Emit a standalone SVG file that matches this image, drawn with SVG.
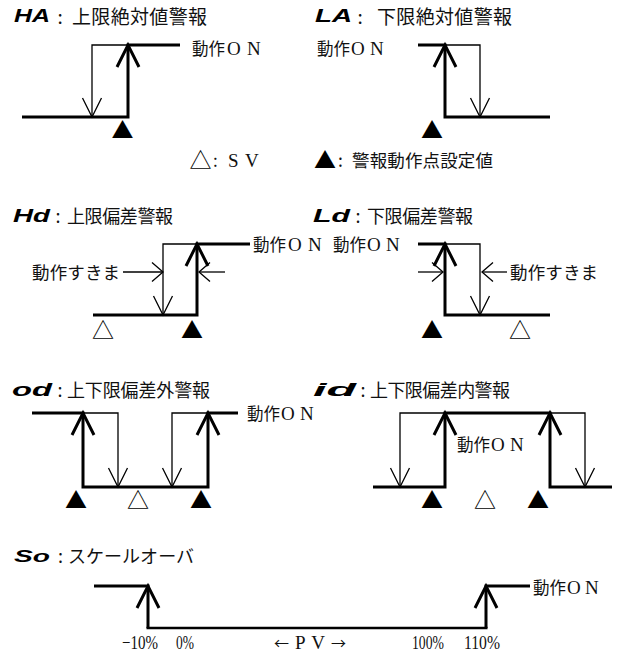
<svg xmlns="http://www.w3.org/2000/svg" xmlns:xlink="http://www.w3.org/1999/xlink" width="619" height="655" viewBox="0 0 619 655">
<style>
.thick{fill:none;stroke:#000;stroke-width:3;stroke-linejoin:miter;stroke-linecap:butt}
.thin{fill:none;stroke:#000;stroke-width:1.3}
.bot{fill:none;stroke:#000;stroke-width:2.5}
.j{font-family:"Noto Sans CJK JP",sans-serif;fill:#111}
.lat{font-family:"Liberation Serif",serif;font-size:19px;fill:#111}
.seg{font-family:"Liberation Sans",sans-serif;font-weight:bold;font-style:italic;fill:#000}
.tri{font-family:"Noto Sans CJK JP",sans-serif;font-size:22px;fill:#000;text-anchor:middle}
.lbl{font-size:16.5px}
.ttl{font-size:18px}
</style>
<defs>
<marker id="dn" markerUnits="userSpaceOnUse" viewBox="-20 -11 22 22" refX="0" refY="0" markerWidth="22" markerHeight="22" orient="auto" overflow="visible">
<path d="M-19,-9.5 L0,0 L-19,9.5" fill="none" stroke="#000" stroke-width="1.3"/>
</marker>
<marker id="dim" markerUnits="userSpaceOnUse" viewBox="-12 -11 14 22" refX="0" refY="0" markerWidth="14" markerHeight="22" orient="auto" overflow="visible">
<path d="M-11,-9.5 L0,0 L-11,9.5" fill="none" stroke="#000" stroke-width="1.3"/>
</marker>
<path id="up" d="M-11,22 L0,0 L11,22" fill="none" stroke="#000" stroke-width="3"/>
</defs>

<g id="titles">
<text class="seg" x="14" y="22" font-size="19" textLength="36" lengthAdjust="spacingAndGlyphs">HA</text>
<text class="j" x="57.5" y="23.5" font-size="19">:</text>
<text class="j" x="72" y="23.5" font-size="19" textLength="135">上限絶対値警報</text>
<text class="seg" x="315" y="22" font-size="19" textLength="37" lengthAdjust="spacingAndGlyphs">LA</text>
<text class="j" x="357.5" y="23.5" font-size="19">:</text>
<text class="j" x="377" y="23.5" font-size="19" textLength="135">下限絶対値警報</text>
<text class="seg" x="13" y="222" font-size="19" textLength="37" lengthAdjust="spacingAndGlyphs">Hd</text>
<text class="j ttl" x="55.5" y="223">:</text>
<text class="j ttl" x="67" y="223" textLength="106">上限偏差警報</text>
<text class="seg" x="313" y="222" font-size="19" textLength="37" lengthAdjust="spacingAndGlyphs">Ld</text>
<text class="j ttl" x="355.5" y="223">:</text>
<text class="j ttl" x="367" y="223" textLength="106">下限偏差警報</text>
<text class="seg" x="12" y="396" font-size="19" textLength="40" lengthAdjust="spacingAndGlyphs">od</text>
<text class="j ttl" x="57.5" y="397">:</text>
<text class="j ttl" x="67" y="397" textLength="143">上下限偏差外警報</text>
<text class="seg" x="313" y="396" font-size="19" textLength="43" lengthAdjust="spacingAndGlyphs">id</text>
<text class="j ttl" x="360.5" y="397">:</text>
<text class="j ttl" x="370" y="397" textLength="140">上下限偏差内警報</text>
<text class="seg" x="14" y="562" font-size="17" textLength="36" lengthAdjust="spacingAndGlyphs">So</text>
<text class="j ttl" x="58" y="563">:</text>
<text class="j ttl" x="68" y="563" textLength="126">スケールオーバ</text>
</g>

<g id="legend">
<text class="tri" x="200.5" y="168">△</text>
<text class="j" x="213" y="167" font-size="17">:</text>
<text class="lat" x="228" y="167">S</text>
<text class="lat" x="245" y="167">V</text>
<text class="tri" x="325" y="168">▲</text>
<text class="j" x="338" y="167" font-size="17.5">:</text>
<text class="j" x="352" y="167" font-size="17.5" textLength="141">警報動作点設定値</text>
</g>

<g id="chart-HA">
<path class="thick" d="M22,117 H128 V45 H180"/>
<text class="j lbl" x="192" y="55">動作</text><text class="lat" x="227" y="55">O</text><text class="lat" x="247" y="55">N</text>
<text class="tri" x="122.5" y="138">▲</text>
</g>
<g id="chart-LA">
<path class="thick" d="M418,45 H445 V117 H550"/>
<text class="j lbl" x="317" y="55">動作</text><text class="lat" x="351" y="55">O</text><text class="lat" x="370" y="55">N</text>
<text class="tri" x="432" y="138">▲</text>
</g>
<g id="chart-Hd">
<path class="thick" d="M93,315 H197 V244 H250"/>
<text class="j lbl" x="253" y="251">動作</text><text class="lat" x="288" y="251">O</text><text class="lat" x="308" y="251">N</text>
<text class="j" x="32" y="279" font-size="17.5" textLength="88">動作すきま</text>
<text class="tri" x="103" y="338">△</text>
<text class="tri" x="192" y="338">▲</text>
</g>
<g id="chart-Ld">
<path class="thick" d="M418,244 H445 V315 H550"/>
<text class="j lbl" x="333" y="251">動作</text><text class="lat" x="367" y="251">O</text><text class="lat" x="386" y="251">N</text>
<text class="j" x="510" y="279" font-size="17.5" textLength="88">動作すきま</text>
<text class="tri" x="432" y="338">▲</text>
<text class="tri" x="520" y="338">△</text>
</g>
<g id="chart-od">
<path class="thick" d="M32,413 H83 V487 H208 V413 H238"/>
<text class="j lbl" x="247" y="420">動作</text><text class="lat" x="281" y="420">O</text><text class="lat" x="300" y="420">N</text>
<text class="tri" x="76" y="508">▲</text>
<text class="tri" x="138" y="508">△</text>
<text class="tri" x="201" y="508">▲</text>
</g>
<g id="chart-id">
<path class="thick" d="M373,487 H445 V413 H550 V487 H612"/>
<text class="j lbl" x="457" y="451">動作</text><text class="lat" x="491" y="451">O</text><text class="lat" x="510" y="451">N</text>
<text class="tri" x="432" y="508">▲</text>
<text class="tri" x="485" y="508">△</text>
<text class="tri" x="538" y="508">▲</text>
</g>
<g id="chart-So">
<path class="thick" d="M94,586 H148 V628"/>
<path class="bot" d="M146.5,628 H487.5"/>
<path class="thick" d="M486,628 V586 H530"/>
<text class="j lbl" x="533" y="594">動作</text><text class="lat" x="567" y="594">O</text><text class="lat" x="585" y="594">N</text>
<text class="lat" x="122" y="649" font-size="15" textLength="36" lengthAdjust="spacingAndGlyphs">−10%</text>
<text class="lat" x="176" y="649" font-size="15" textLength="18" lengthAdjust="spacingAndGlyphs">0%</text>
<text class="j" x="274" y="649" font-size="15" textLength="72">←<tspan class="lat" font-size="17">PV</tspan>→</text>
<text class="lat" x="412" y="649" font-size="15" textLength="32" lengthAdjust="spacingAndGlyphs">100%</text>
<text class="lat" x="464" y="649" font-size="15" textLength="36" lengthAdjust="spacingAndGlyphs">110%</text>
</g>

<g id="connectors">
<path class="thin" d="M128,45 H92 V117" marker-end="url(#dn)"/>
<use xlink:href="#up" x="128" y="45"/>
<path class="thin" d="M445,45 H480 V117" marker-end="url(#dn)"/>
<use xlink:href="#up" x="445" y="45"/>
<path class="thin" d="M197,244 H163 V315" marker-end="url(#dn)"/>
<use xlink:href="#up" x="197" y="244"/>
<path class="thin" d="M123,272 H163" marker-end="url(#dim)"/>
<path class="thin" d="M225,272 H199" marker-end="url(#dim)"/>
<path class="thin" d="M445,244 H480 V315" marker-end="url(#dn)"/>
<use xlink:href="#up" x="445" y="244"/>
<path class="thin" d="M418,272 H443" marker-end="url(#dim)"/>
<path class="thin" d="M507,272 H482" marker-end="url(#dim)"/>
<path class="thin" d="M83,413 H118 V487" marker-end="url(#dn)"/>
<path class="thin" d="M208,413 H172 V487" marker-end="url(#dn)"/>
<use xlink:href="#up" x="83" y="413"/>
<use xlink:href="#up" x="208" y="413"/>
<path class="thin" d="M445,413 H400 V487" marker-end="url(#dn)"/>
<path class="thin" d="M550,413 H585 V487" marker-end="url(#dn)"/>
<use xlink:href="#up" x="445" y="413"/>
<use xlink:href="#up" x="550" y="413"/>
<use xlink:href="#up" x="148" y="586"/>
<use xlink:href="#up" x="486" y="586"/>
</g>
</svg>
